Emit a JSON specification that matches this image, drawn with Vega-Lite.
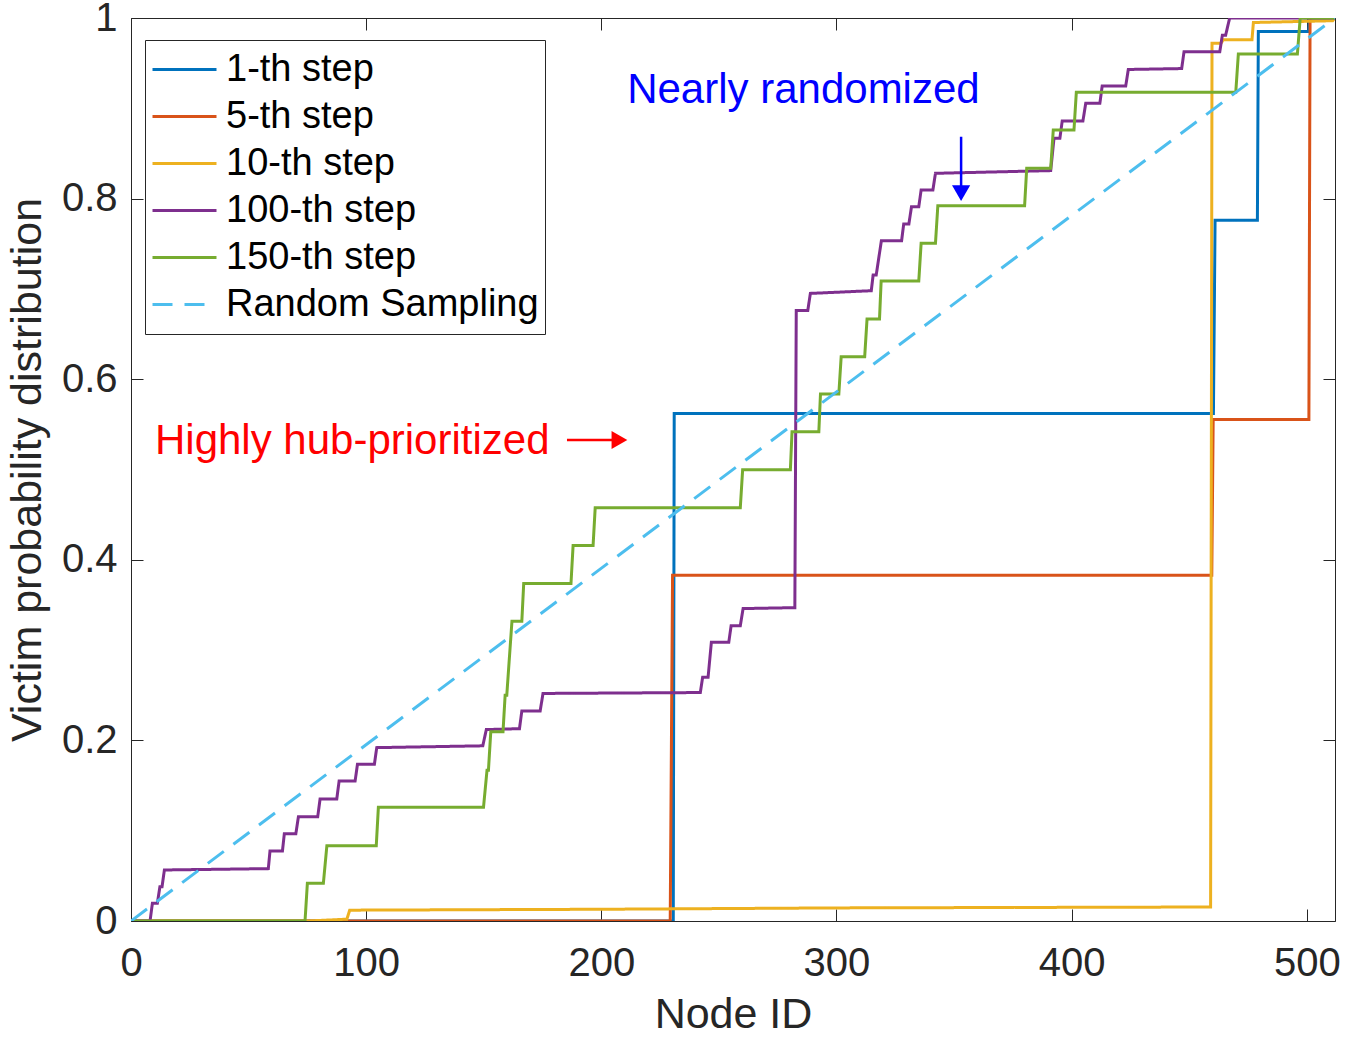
{
  "$schema": "https://vega.github.io/schema/vega-lite/v6.json",
  "width": 1204,
  "height": 903,
  "autosize": {"type": "none"},
  "padding": {"left": 131, "top": 18, "right": 30, "bottom": 119},
  "background": "white",
  "config": {
    "view": {"stroke": "#262626", "strokeWidth": 1},
    "font": "Liberation Sans",
    "axis": {
      "labelFont": "Liberation Sans",
      "titleFont": "Liberation Sans",
      "labelFontSize": 40,
      "titleFontSize": 43,
      "titleFontWeight": "normal",
      "labelColor": "#262626",
      "titleColor": "#262626",
      "tickColor": "#262626",
      "domainColor": "#262626",
      "labelFlush": false,
      "grid": false
    }
  },
  "datasets": {
    "lines": [
      {"s": "1-th step", "x": 0, "y": 0},
      {"s": "1-th step", "x": 230.6, "y": 0},
      {"s": "1-th step", "x": 231.0, "y": 0.562},
      {"s": "1-th step", "x": 460.3, "y": 0.562},
      {"s": "1-th step", "x": 461.0, "y": 0.776},
      {"s": "1-th step", "x": 479.0, "y": 0.776},
      {"s": "1-th step", "x": 479.4, "y": 0.985},
      {"s": "1-th step", "x": 500.8, "y": 0.985},
      {"s": "1-th step", "x": 501.2, "y": 1.0},
      {"s": "1-th step", "x": 512, "y": 1.0},

      {"s": "5-th step", "x": 0, "y": 0},
      {"s": "5-th step", "x": 229.3, "y": 0},
      {"s": "5-th step", "x": 230.3, "y": 0.383},
      {"s": "5-th step", "x": 459.6, "y": 0.383},
      {"s": "5-th step", "x": 460.2, "y": 0.5555},
      {"s": "5-th step", "x": 500.9, "y": 0.5555},
      {"s": "5-th step", "x": 501.4, "y": 1.0},
      {"s": "5-th step", "x": 512, "y": 1.0},

      {"s": "10-th step", "x": 0, "y": 0},
      {"s": "10-th step", "x": 75, "y": 0},
      {"s": "10-th step", "x": 91.8, "y": 0.002},
      {"s": "10-th step", "x": 93, "y": 0.012},
      {"s": "10-th step", "x": 200, "y": 0.013},
      {"s": "10-th step", "x": 300, "y": 0.0145},
      {"s": "10-th step", "x": 459.1, "y": 0.0155},
      {"s": "10-th step", "x": 459.7, "y": 0.972},
      {"s": "10-th step", "x": 463.5, "y": 0.972},
      {"s": "10-th step", "x": 464.5, "y": 0.976},
      {"s": "10-th step", "x": 476.7, "y": 0.976},
      {"s": "10-th step", "x": 477.3, "y": 0.995},
      {"s": "10-th step", "x": 511, "y": 0.997},
      {"s": "10-th step", "x": 512, "y": 1.0},

      {"s": "100-th step", "x": 0, "y": 0},
      {"s": "100-th step", "x": 8.1, "y": 0},
      {"s": "100-th step", "x": 9.1, "y": 0.0196},
      {"s": "100-th step", "x": 11.2, "y": 0.0196},
      {"s": "100-th step", "x": 12.3, "y": 0.038},
      {"s": "100-th step", "x": 13.2, "y": 0.038},
      {"s": "100-th step", "x": 14.2, "y": 0.0565},
      {"s": "100-th step", "x": 58.4, "y": 0.058},
      {"s": "100-th step", "x": 59.1, "y": 0.0775},
      {"s": "100-th step", "x": 64.4, "y": 0.0775},
      {"s": "100-th step", "x": 65.2, "y": 0.0967},
      {"s": "100-th step", "x": 70.1, "y": 0.0967},
      {"s": "100-th step", "x": 71.2, "y": 0.1155},
      {"s": "100-th step", "x": 79.4, "y": 0.1155},
      {"s": "100-th step", "x": 80.4, "y": 0.135},
      {"s": "100-th step", "x": 87.5, "y": 0.135},
      {"s": "100-th step", "x": 88.5, "y": 0.155},
      {"s": "100-th step", "x": 95.3, "y": 0.155},
      {"s": "100-th step", "x": 96.3, "y": 0.1735},
      {"s": "100-th step", "x": 103.5, "y": 0.1735},
      {"s": "100-th step", "x": 104.5, "y": 0.192},
      {"s": "100-th step", "x": 149.6, "y": 0.194},
      {"s": "100-th step", "x": 151.1, "y": 0.212},
      {"s": "100-th step", "x": 165.2, "y": 0.213},
      {"s": "100-th step", "x": 166.2, "y": 0.2326},
      {"s": "100-th step", "x": 174.0, "y": 0.2326},
      {"s": "100-th step", "x": 175.2, "y": 0.252},
      {"s": "100-th step", "x": 242.1, "y": 0.253},
      {"s": "100-th step", "x": 243.1, "y": 0.270},
      {"s": "100-th step", "x": 245.4, "y": 0.270},
      {"s": "100-th step", "x": 246.8, "y": 0.3086},
      {"s": "100-th step", "x": 254.2, "y": 0.3086},
      {"s": "100-th step", "x": 255.2, "y": 0.327},
      {"s": "100-th step", "x": 259.1, "y": 0.327},
      {"s": "100-th step", "x": 260.3, "y": 0.346},
      {"s": "100-th step", "x": 282.3, "y": 0.347},
      {"s": "100-th step", "x": 282.9, "y": 0.676},
      {"s": "100-th step", "x": 287.8, "y": 0.676},
      {"s": "100-th step", "x": 288.9, "y": 0.695},
      {"s": "100-th step", "x": 314.8, "y": 0.698},
      {"s": "100-th step", "x": 315.6, "y": 0.7154},
      {"s": "100-th step", "x": 316.9, "y": 0.7154},
      {"s": "100-th step", "x": 319.1, "y": 0.7534},
      {"s": "100-th step", "x": 327.7, "y": 0.7534},
      {"s": "100-th step", "x": 328.6, "y": 0.772},
      {"s": "100-th step", "x": 330.8, "y": 0.772},
      {"s": "100-th step", "x": 331.9, "y": 0.791},
      {"s": "100-th step", "x": 335.0, "y": 0.791},
      {"s": "100-th step", "x": 336.0, "y": 0.8095},
      {"s": "100-th step", "x": 341.0, "y": 0.8095},
      {"s": "100-th step", "x": 342.1, "y": 0.828},
      {"s": "100-th step", "x": 391.1, "y": 0.831},
      {"s": "100-th step", "x": 392.5, "y": 0.8667},
      {"s": "100-th step", "x": 395.0, "y": 0.8667},
      {"s": "100-th step", "x": 396.0, "y": 0.886},
      {"s": "100-th step", "x": 404.8, "y": 0.886},
      {"s": "100-th step", "x": 406.0, "y": 0.9055},
      {"s": "100-th step", "x": 412.0, "y": 0.9055},
      {"s": "100-th step", "x": 413.0, "y": 0.9247},
      {"s": "100-th step", "x": 423.0, "y": 0.9247},
      {"s": "100-th step", "x": 424.1, "y": 0.943},
      {"s": "100-th step", "x": 446.8, "y": 0.944},
      {"s": "100-th step", "x": 447.8, "y": 0.9627},
      {"s": "100-th step", "x": 463.0, "y": 0.9627},
      {"s": "100-th step", "x": 464.1, "y": 0.981},
      {"s": "100-th step", "x": 465.5, "y": 0.981},
      {"s": "100-th step", "x": 467.2, "y": 1.0},
      {"s": "100-th step", "x": 512, "y": 1.0},

      {"s": "150-th step", "x": 0, "y": 0},
      {"s": "150-th step", "x": 74.0, "y": 0},
      {"s": "150-th step", "x": 75.0, "y": 0.0417},
      {"s": "150-th step", "x": 81.8, "y": 0.0417},
      {"s": "150-th step", "x": 83.3, "y": 0.0834},
      {"s": "150-th step", "x": 104.3, "y": 0.0834},
      {"s": "150-th step", "x": 105.2, "y": 0.126},
      {"s": "150-th step", "x": 149.9, "y": 0.126},
      {"s": "150-th step", "x": 151.4, "y": 0.167},
      {"s": "150-th step", "x": 152.0, "y": 0.167},
      {"s": "150-th step", "x": 153.0, "y": 0.2097},
      {"s": "150-th step", "x": 158.2, "y": 0.2097},
      {"s": "150-th step", "x": 159.1, "y": 0.25},
      {"s": "150-th step", "x": 159.8, "y": 0.25},
      {"s": "150-th step", "x": 162.0, "y": 0.332},
      {"s": "150-th step", "x": 166.2, "y": 0.332},
      {"s": "150-th step", "x": 167.0, "y": 0.3737},
      {"s": "150-th step", "x": 187.1, "y": 0.3737},
      {"s": "150-th step", "x": 188.0, "y": 0.4158},
      {"s": "150-th step", "x": 196.5, "y": 0.4158},
      {"s": "150-th step", "x": 197.4, "y": 0.4576},
      {"s": "150-th step", "x": 259.1, "y": 0.4576},
      {"s": "150-th step", "x": 260.1, "y": 0.4997},
      {"s": "150-th step", "x": 280.4, "y": 0.4997},
      {"s": "150-th step", "x": 281.1, "y": 0.5418},
      {"s": "150-th step", "x": 292.5, "y": 0.5418},
      {"s": "150-th step", "x": 293.2, "y": 0.5835},
      {"s": "150-th step", "x": 301.0, "y": 0.5835},
      {"s": "150-th step", "x": 302.0, "y": 0.625},
      {"s": "150-th step", "x": 312.0, "y": 0.625},
      {"s": "150-th step", "x": 313.0, "y": 0.6667},
      {"s": "150-th step", "x": 318.3, "y": 0.6667},
      {"s": "150-th step", "x": 319.0, "y": 0.7087},
      {"s": "150-th step", "x": 335.0, "y": 0.7087},
      {"s": "150-th step", "x": 336.0, "y": 0.7505},
      {"s": "150-th step", "x": 342.1, "y": 0.7505},
      {"s": "150-th step", "x": 343.1, "y": 0.792},
      {"s": "150-th step", "x": 380.0, "y": 0.792},
      {"s": "150-th step", "x": 380.9, "y": 0.8335},
      {"s": "150-th step", "x": 391.1, "y": 0.8335},
      {"s": "150-th step", "x": 392.2, "y": 0.876},
      {"s": "150-th step", "x": 401.0, "y": 0.876},
      {"s": "150-th step", "x": 402.0, "y": 0.9177},
      {"s": "150-th step", "x": 469.8, "y": 0.9177},
      {"s": "150-th step", "x": 470.9, "y": 0.96},
      {"s": "150-th step", "x": 496.0, "y": 0.96},
      {"s": "150-th step", "x": 497.2, "y": 1.0},
      {"s": "150-th step", "x": 512, "y": 1.0},

      {"s": "Random Sampling", "x": 0, "y": 0},
      {"s": "Random Sampling", "x": 512, "y": 1.0}
    ],
    "labels": [
      {"t": "Nearly randomized", "x": 211, "y": 0.906, "c": "#0000FF"},
      {"t": "Highly hub-prioritized", "x": 10.2, "y": 0.517, "c": "#FF0000"}
    ],
    "shafts": [
      {"x": 353, "x2": 353, "y": 0.8685, "y2": 0.812, "c": "#0000FF"},
      {"x": 185.4, "x2": 205, "y": 0.5327, "y2": 0.5327, "c": "#FF0000"}
    ],
    "heads": [
      {"x": 353, "y": 0.806, "shape": "triangle-down", "c": "#0000FF"},
      {"x": 207.7, "y": 0.5327, "shape": "triangle-right", "c": "#FF0000"}
    ]
  },
  "resolve": {"axis": {"x": "independent", "y": "independent"}},
  "layer": [
    {
      "data": {"name": "lines"},
      "mark": {"type": "line", "strokeWidth": 3, "clip": true},
      "encoding": {
        "x": {
          "field": "x", "type": "quantitative",
          "scale": {"domain": [0, 512], "nice": false, "zero": false},
          "axis": {"title": "Node ID", "values": [0, 100, 200, 300, 400, 500], "tickSize": -12, "labelPadding": 34, "titlePadding": 10, "domain": false}
        },
        "y": {
          "field": "y", "type": "quantitative",
          "scale": {"domain": [0, 1], "nice": false},
          "axis": {"title": "Victim probability distribution", "values": [0, 0.2, 0.4, 0.6, 0.8, 1], "format": "~g", "tickSize": -12, "labelPadding": 26, "titlePadding": 12, "domain": false}
        },
        "color": {
          "field": "s", "type": "nominal",
          "scale": {
            "domain": ["1-th step", "5-th step", "10-th step", "100-th step", "150-th step", "Random Sampling"],
            "range": ["#0072BD", "#D95319", "#EDB120", "#7E2F8E", "#77AC30", "#4DBEEE"]
          },
          "legend": {
            "title": null, "orient": "none", "legendX": 14, "legendY": 22,
            "strokeColor": "#262626", "fillColor": "white", "padding": 6,
            "symbolType": "stroke", "symbolSize": 4096, "symbolStrokeWidth": 3,
            "labelFontSize": 38, "labelFont": "Liberation Sans", "labelColor": "black",
            "labelOffset": 8, "rowPadding": 0, "clipHeight": 47, "labelLimit": 500
          }
        },
        "strokeDash": {
          "field": "s", "type": "nominal",
          "scale": {
            "domain": ["1-th step", "5-th step", "10-th step", "100-th step", "150-th step", "Random Sampling"],
            "range": [[1, 0], [1, 0], [1, 0], [1, 0], [1, 0], [20, 12]]
          },
          "legend": {
            "title": null, "orient": "none", "legendX": 14, "legendY": 22,
            "strokeColor": "#262626", "fillColor": "white", "padding": 6,
            "symbolType": "stroke", "symbolSize": 4096, "symbolStrokeWidth": 3,
            "labelFontSize": 38, "labelFont": "Liberation Sans", "labelColor": "black",
            "labelOffset": 8, "rowPadding": 0, "clipHeight": 47, "labelLimit": 500
          }
        }
      }
    },
    {
      "data": {"name": "shafts"},
      "mark": {"type": "rule", "strokeWidth": 2.5},
      "encoding": {
        "x": {"field": "x", "type": "quantitative", "axis": {"orient": "top", "labels": false, "title": null, "values": [0, 100, 200, 300, 400, 500], "tickSize": -12, "domain": false}},
        "x2": {"field": "x2"},
        "y": {"field": "y", "type": "quantitative", "axis": {"orient": "right", "labels": false, "title": null, "values": [0, 0.2, 0.4, 0.6, 0.8, 1], "tickSize": -12, "domain": false}},
        "y2": {"field": "y2"},
        "color": {"field": "c", "type": "nominal", "scale": null}
      }
    },
    {
      "data": {"name": "heads"},
      "mark": {"type": "point", "filled": true, "size": 330, "opacity": 1},
      "encoding": {
        "x": {"field": "x", "type": "quantitative", "axis": null},
        "y": {"field": "y", "type": "quantitative", "axis": null},
        "shape": {"field": "shape", "type": "nominal", "scale": null},
        "color": {"field": "c", "type": "nominal", "scale": null}
      }
    },
    {
      "data": {"name": "labels"},
      "mark": {"type": "text", "align": "left", "baseline": "alphabetic", "fontSize": 42, "font": "Liberation Sans"},
      "encoding": {
        "x": {"field": "x", "type": "quantitative", "axis": null},
        "y": {"field": "y", "type": "quantitative", "axis": null},
        "text": {"field": "t"},
        "color": {"field": "c", "type": "nominal", "scale": null}
      }
    }
  ]
}
